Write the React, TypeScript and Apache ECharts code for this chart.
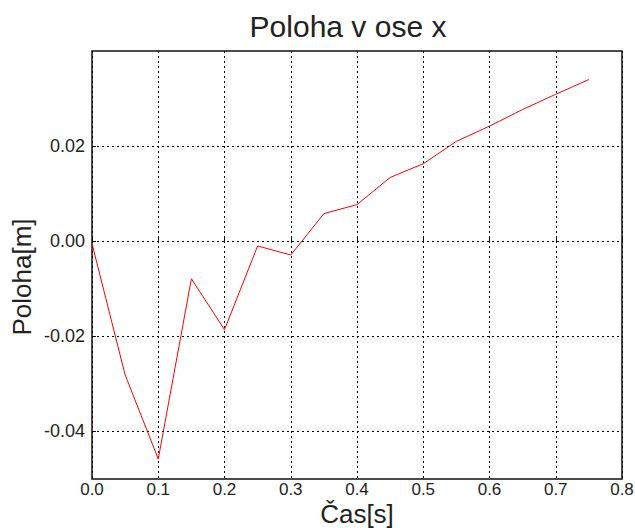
import React, { useEffect, useRef } from "react";
import * as echarts from "echarts";

const times = [0, 0.05, 0.1, 0.15, 0.2, 0.25, 0.3, 0.35, 0.4, 0.45, 0.5, 0.55, 0.6, 0.65, 0.7, 0.75];
const positions = [-0.0005, -0.0281, -0.0458, -0.0079, -0.0186, -0.001, -0.0029, 0.0058, 0.0077, 0.0134, 0.0163, 0.021, 0.0242, 0.0277, 0.0309, 0.034];
const yTickValues = [-0.04, -0.02, 0, 0.02];
const titleText = "Poloha v ose x";
const xName = "Čas[s]";
const yName = "Poloha[m]";

const tickFont = "Liberation Sans";
const nameFont = "Liberation Sans";

export default function App() {
  const ref = useRef<HTMLDivElement>(null);
  useEffect(() => {
    if (!ref.current) return;
    const chart = echarts.init(ref.current, null, { renderer: "svg" });
    chart.setOption({
      animation: false,
      backgroundColor: "#fff",
      title: {
        text: titleText,
        left: 343,
        top: 6,
        textAlign: "center",
        textStyle: { fontFamily: nameFont, fontSize: 30, fontWeight: "normal", color: "#222" },
      },
      grid: {
        left: 92,
        right: 13,
        top: 51,
        bottom: 49,
        containLabel: false,
        outerBoundsMode: "none",
        show: true,
        borderColor: "#111",
        borderWidth: 1.5,
        backgroundColor: "#fff",
      },
      xAxis: {
        type: "value",
        min: 0,
        max: 0.8,
        interval: 0.1,
        name: xName,
        nameLocation: "middle",
        nameGap: 22,
        nameMoveOverlap: false,
        nameTextStyle: { fontFamily: nameFont, fontSize: 26, lineHeight: 26, color: "#222", verticalAlign: "top" },
        axisLine: { show: false },
        axisTick: { show: true, inside: true, length: 4, lineStyle: { color: "#111" } },
        axisLabel: {
          fontFamily: tickFont,
          fontSize: 17,
          lineHeight: 17,
          color: "#222",
          margin: 2,
          formatter: (v: number) => v.toFixed(1),
        },
        splitLine: { show: true, lineStyle: { color: "#000", width: 1, type: [2, 3] } },
      },
      yAxis: {
        type: "value",
        min: -0.05,
        max: 0.04,
        interval: 0.01,
        name: yName,
        nameLocation: "middle",
        nameGap: 57,
        nameMoveOverlap: false,
        nameTextStyle: { fontFamily: nameFont, fontSize: 26, color: "#222", padding: [0, 24, 0, 0] },
        axisLine: { show: false },
        axisTick: { show: true, inside: true, length: 4, customValues: yTickValues, lineStyle: { color: "#111" } },
        axisLabel: {
          fontFamily: tickFont,
          fontSize: 18,
          color: "#222",
          margin: 7,
          customValues: yTickValues,
          formatter: (v: number) => (Math.abs(v) < 1e-9 ? "0.00" : v.toFixed(2)),
        },
        splitLine: { show: false },
      },
      series: [
        {
          type: "line",
          data: times.map((t, i) => [t, positions[i]]),
          symbol: "none",
          lineStyle: { color: "#ff0000", width: 1 },
          markLine: {
            silent: true,
            symbol: "none",
            label: { show: false },
            lineStyle: { color: "#000", width: 1, type: [2, 3] },
            data: yTickValues.map((v) => ({ yAxis: v })),
          },
        },
      ],
    });
    return () => chart.dispose();
  }, []);
  return (
    <div
      ref={ref}
      style={{ position: "absolute", left: 0, top: 0, width: 635, height: 528 }}
    />
  );
}
